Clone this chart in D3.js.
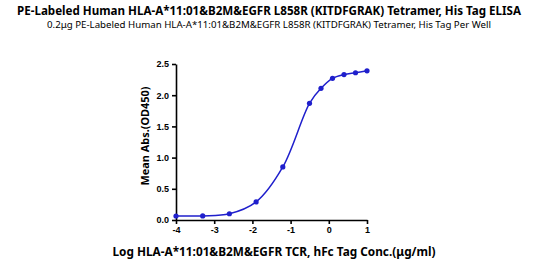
<!DOCTYPE html>
<html>
<head>
<meta charset="utf-8">
<script src="https://cdn.jsdelivr.net/npm/d3@7"></script>
<style>
  body { margin: 0; background: #fff; }
  svg { display: block; font-family: "Noto Sans", "Open Sans", sans-serif; }
  .axis path, .axis line { stroke: #000; stroke-width: 1.6; }
  .axis text { font-size: 9px; font-weight: bold; fill: #000; }
</style>
</head>
<body>
<script>
// log concentration (μg/ml) and mean OD450
const logConc = [-4, -3.301, -2.602, -1.903, -1.204, -0.505, -0.204, 0.097, 0.398, 0.699, 1]
const od450 = [0.064, 0.066, 0.10, 0.29, 0.85, 1.87, 2.11, 2.27, 2.33, 2.36, 2.39]
const xTicks = [-4, -3, -2, -1, 0, 1]
const yTicks = [0, 0.5, 1.0, 1.5, 2.0, 2.5]

const title = 'PE-Labeled Human HLA-A*11:01&B2M&EGFR L858R (KITDFGRAK) Tetramer, His Tag ELISA'
const subtitle = '0.2μg PE-Labeled Human HLA-A*11:01&B2M&EGFR L858R (KITDFGRAK) Tetramer, His Tag Per Well'
const xTitle = 'Log HLA-A*11:01&B2M&EGFR TCR, hFc Tag Conc.(μg/ml)'
const yTitle = 'Mean Abs.(OD450)'

const svgWidth = 537
const svgHeight = 266
const margin = {top: 64, right: 170, bottom: 46, left: 176}
const width = svgWidth - margin.left - margin.right
const height = svgHeight - margin.top - margin.bottom
const color = '#1f1fcc'

const svg = d3.select('body').append('svg')
  .attr('width', svgWidth).attr('height', svgHeight)

svg.append('text')
  .attr('x', 269).attr('y', 15)
  .attr('text-anchor', 'middle')
  .attr('font-size', 11.5).attr('font-weight', 'bold')
  .attr('textLength', 504).attr('lengthAdjust', 'spacingAndGlyphs')
  .text(title)

svg.append('text')
  .attr('x', 269).attr('y', 28)
  .attr('text-anchor', 'middle')
  .attr('font-size', 9)
  .attr('textLength', 444).attr('lengthAdjust', 'spacingAndGlyphs')
  .text(subtitle)

const g = svg.append('g')
  .attr('transform', `translate(${margin.left},${margin.top})`)

const x = d3.scaleLinear().domain([-4, 1]).range([0, width])
const y = d3.scaleLinear().domain([0, 2.5]).range([height, 0])

g.append('g').attr('class', 'axis')
  .attr('transform', `translate(0,${height})`)
  .call(d3.axisBottom(x).tickValues(xTicks).tickFormat(d => String(d)).tickSize(4).tickSizeOuter(0))

g.append('g').attr('class', 'axis')
  .call(d3.axisLeft(y).tickValues(yTicks).tickFormat(d3.format('.1f')).tickSize(4).tickSizeOuter(0))

const pts = logConc.map((c, i) => [c, od450[i]])

g.append('path')
  .datum(pts)
  .attr('fill', 'none')
  .attr('stroke', color)
  .attr('stroke-width', 1.5)
  .attr('d', d3.line().x(d => x(d[0])).y(d => y(d[1])).curve(d3.curveCatmullRom.alpha(0.5)))

g.append('g').selectAll('circle').data(pts).enter().append('circle')
  .attr('cx', d => x(d[0]))
  .attr('cy', d => y(d[1]))
  .attr('r', 2.6)
  .attr('fill', color)

svg.append('text')
  .attr('transform', `translate(149,${margin.top + 72}) rotate(-90)`)
  .attr('text-anchor', 'middle')
  .attr('font-size', 11).attr('font-weight', 'bold')
  .attr('textLength', 99).attr('lengthAdjust', 'spacingAndGlyphs')
  .text(yTitle)

svg.append('text')
  .attr('x', 274).attr('y', 256)
  .attr('text-anchor', 'middle')
  .attr('font-size', 12).attr('font-weight', 'bold')
  .attr('textLength', 323).attr('lengthAdjust', 'spacingAndGlyphs')
  .text(xTitle)
</script>
</body>
</html>
